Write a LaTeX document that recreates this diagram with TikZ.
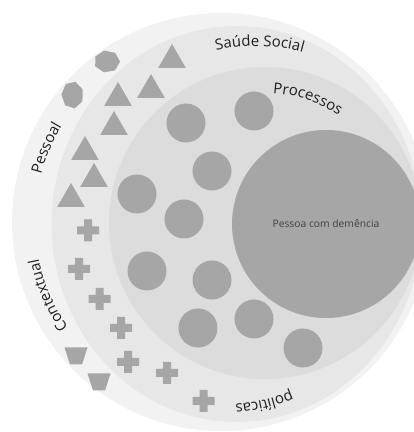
\documentclass[tikz,border=0pt]{standalone}
\usepackage{fontspec}
\setmainfont{Open Sans}
\usetikzlibrary{shapes.geometric,decorations.text}
\definecolor{ringA}{HTML}{F2F2F2}
\definecolor{ringB}{HTML}{E7E7E7}
\definecolor{ringC}{HTML}{DCDCDC}
\definecolor{core}{HTML}{A6A6A6}
\newcommand{\ringfont}{\fontsize{15}{18}\selectfont}
\tikzset{dot/.style={circle,fill=core,minimum size=39pt,inner sep=0pt},
 tri/.style={regular polygon,regular polygon sides=3,fill=core,minimum size=32pt,inner sep=0pt},
 ring/.style={decorate,decoration={text along path,text align=center,text color=black!88,text={|\ringfont|#1}}},
 gem/.pic={\fill[core] (90:13) \foreach \a in {141.4,192.9,244.3,295.7,347.1,38.6} {-- (\a:13)} -- cycle;},
 plussign/.pic={\fill[core] (-11,-4) rectangle (11,4) (-4,-11) rectangle (4,11);},
 bucket/.pic={\fill[core] (-11.5,8.5) -- (11.5,8.5) -- (6,-8.5) -- (-6,-8.5) -- cycle;}}

\begin{document}
\begin{tikzpicture}[x=1pt,y=1pt]
\clip (0,0) rectangle (414,432);
\fill[ringA] (221,210) circle (209);
\fill[ringB] (236.6,208) ellipse (185 and 198);
\fill[ringC] (265,209) circle (156);
\node[dot,minimum size=188pt,font=\fontsize{10.3}{12}\selectfont,text=black!75] (pessoa) at (326,208) {Pessoa com demência};
% processes
\foreach \x/\y [count=\i] in {186/309,254/321,212/261,137/238,184/213,147/161,212/152,198/104,254/113,303/84}
  \node[dot] (d\i) at (\x,\y) {};
% social health
\foreach \x/\y [count=\i] in {172/372,151/342,118/334,114/305,85/280,94/253,71/233}
  \node[tri] (t\i) at (\x,\y) {};
\foreach \x/\y [count=\i] in {88/201.5,79/163,99.5/133,121/104,128/70,167/59,203.5/31}
  \pic (p\i) at (\x,\y) {plussign};
% outer ring
\pic[yscale=0.86,rotate=12] (h1) at (107,370.5) {gem};
\pic[xscale=0.86,yscale=1.05,rotate=-15] (h2) at (72.5,337) {gem};
\pic (b1) at (76,76) {bucket};
\pic (b2) at (99,50) {bucket};
% ring labels
\path[ring={Saúde Social}] ([shift={(126:178)}]255,208) arc (126:51:178);
\path[ring={Processos}] ([shift={(100:130)}]265,209) arc (100:42:130);
\path[ring={Pessoal}] ([shift={(185:186)}]221,210) arc (185:129:186);
\path[ring={Contextual}] ([shift={(232:186)}]221,210) arc (232:174:186);
\path[ring={políticas}] ([shift={(305:183)}]221,210) arc (305:262:183);
\end{tikzpicture}
\end{document}
